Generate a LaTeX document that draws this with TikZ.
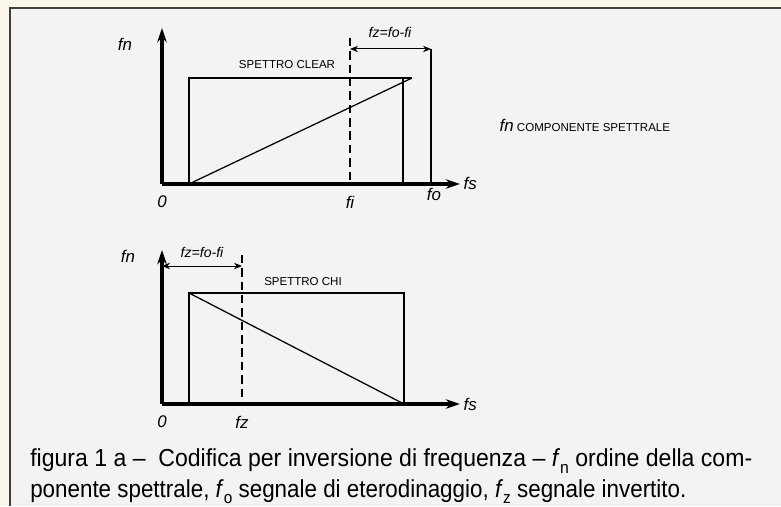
\documentclass[tikz,border=0pt]{standalone}
\usepackage{fontspec}
\setsansfont{Liberation Sans}
\usetikzlibrary{arrows.meta,calc}
\definecolor{pagecream}{RGB}{250,248,234}
\definecolor{pagegrey}{RGB}{243,243,241}
\newcommand{\subidx}[1]{\raisebox{-0.5ex}{\fontsize{12}{12}\selectfont #1}}

\begin{document}
\begin{tikzpicture}[
  font=\sffamily,
  >=Stealth,
  axisline/.style={line width=2.3pt, -{Stealth[length=3.6mm,width=2.4mm]}},
  specline/.style={line width=0.9pt},
  foline/.style={line width=2pt},
  dimarrow/.style={{Stealth[length=2mm,width=1.6mm]}-{Stealth[length=2mm,width=1.6mm]}, line width=0.7pt},
  guide/.style={line width=1pt, dash pattern=on 6pt off 3.5pt},
  hand/.style={font=\sffamily\itshape\large, inner sep=1pt},
  tag/.style={font=\sffamily\fontsize{8.2}{9}\selectfont, inner sep=1pt},
  capline/.style={anchor=base west, inner sep=0pt, font=\sffamily\fontsize{17.5}{20}\selectfont}
]
  \useasboundingbox (0,0) rectangle (19.525,12.65);
  \fill[pagecream] (0,0) rectangle (19.525,12.65);
  \fill[pagegrey] (0.25,0) rectangle (19.525,12.45);
  \draw[line width=1.2pt, black!75] (0.25,0) -- (0.25,12.45) -- (19.525,12.45);

  \coordinate (o1) at (4.05,8.05);
  \coordinate (y1) at (4.05,11.95);
  \coordinate (x1) at (11.5,8.05);
  \draw[axisline] (o1) -- (y1);
  \draw[axisline] (o1) -- (x1);
  \coordinate (c1) at (4.725,8.05);
  \coordinate (c2) at (4.725,10.7);
  \coordinate (c3) at (10.3,10.7);
  \coordinate (c4) at (10.075,10.7);
  \coordinate (c5) at (10.075,8.05);
  \draw[specline] (c1) -- (c2) -- (c3);
  \draw[specline] (c4) -- (c5);
  \draw[specline] (c1) -- (c3);
  \coordinate (ditop) at (8.75,11.7);
  \coordinate (dibot) at (8.75,8.05);
  \draw[guide] (ditop) -- (dibot);
  \coordinate (fotop) at (10.775,11.425);
  \coordinate (fobot) at (10.775,8.05);
  \draw[foline] (fotop) -- (fobot);
  \coordinate (zi) at (8.75,11.425);
  \draw[dimarrow] (zi) -- (fotop);
  \node[hand] (fn1) at (3.125,11.55) {fn};
  \node[hand, anchor=west] (fs1) at (11.55,8.07) {fs};
  \node[hand] (zero1) at (4.05,7.62) {0};
  \node[hand] (fi1) at (8.75,7.58) {fi};
  \node[hand] (fo1) at (10.85,7.78) {fo};
  \node[hand, font=\sffamily\itshape\normalsize] (fz1) at (9.75,11.85) {fz=fo-fi};
  \node[tag] (clear) at (7.175,11.025) {SPETTRO CLEAR};
  \node[tag, anchor=west] (comp) at (12.45,9.525) {{\itshape\large fn} COMPONENTE SPETTRALE};

  \coordinate (o2) at (4.05,2.55);
  \coordinate (y2) at (4.05,6.4);
  \coordinate (x2) at (11.5,2.55);
  \draw[axisline] (o2) -- (y2);
  \draw[axisline] (o2) -- (x2);
  \coordinate (h1) at (4.725,2.55);
  \coordinate (h2) at (4.725,5.325);
  \coordinate (h3) at (10.1,5.325);
  \coordinate (h4) at (10.1,2.55);
  \draw[specline] (h1) -- (h2) -- (h3) -- (h4);
  \draw[specline] (h2) -- (h4);
  \coordinate (dztop) at (6.05,6.275);
  \coordinate (dzbot) at (6.05,2.55);
  \draw[guide] (dztop) -- (dzbot);
  \coordinate (za) at (4.05,6.0);
  \coordinate (zb) at (6.05,6.0);
  \draw[dimarrow] (za) -- (zb);
  \node[hand] (fn2) at (3.2,6.25) {fn};
  \node[hand, anchor=west] (fs2) at (11.55,2.55) {fs};
  \node[hand] (zero2) at (4.05,2.1) {0};
  \node[hand] (fz2) at (6.05,2.08) {fz};
  \node[hand, font=\sffamily\itshape\normalsize] (fzlab) at (5.05,6.33) {fz=fo-fi};
  \node[tag] (chi) at (7.575,5.6) {SPETTRO CHI};

  \node[capline] (cap1) at (0.75,0.975) {\scalebox{0.937}[1]{figura 1 a –\ \ Codifica per inversione di frequenza – \textit{f}\subidx{n} ordine della com-}};
  \node[capline] (cap2) at (0.75,0.225) {\scalebox{0.91}[1]{ponente spettrale, \textit{f}\subidx{o} segnale di eterodinaggio, \textit{f}\subidx{z} segnale invertito.}};
\end{tikzpicture}
\end{document}
